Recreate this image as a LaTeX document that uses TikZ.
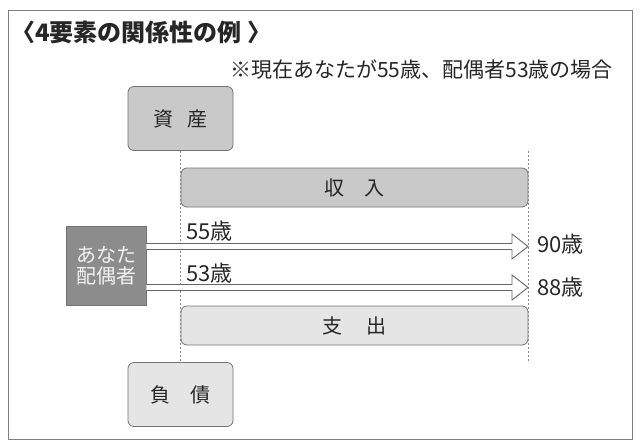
\documentclass[tikz,border=0pt]{standalone}
\usepackage{fontspec}
\setmainfont{Noto Sans CJK JP}
\usetikzlibrary{calc, positioning}

\begin{document}
\begin{tikzpicture}[
    x=1pt, y=-1pt,
    font=\fontsize{20}{21}\selectfont,
    every node/.style={
        inner sep=0pt,
        text=black!85,
        align=center
    },
    box/.style={draw=black!55, line width=0.8pt, rounded corners=6pt},
    stock/.style={box, minimum width=105pt, minimum height=64pt},
    flow/.style={box, minimum width=347pt, minimum height=39pt},
    dark/.style={fill=black!21},
    light/.style={fill=black!10},
    person/.style={fill=black!45, draw=black!55, line width=0.8pt, text=black!5,
        minimum width=80pt, minimum height=79pt},
    agearrow/.style={draw=black!60, line width=0.9pt, fill=white, line join=miter},
    agelabel/.style={anchor=west, font=\fontsize{22}{24}\selectfont},
    guide/.style={draw=black!45, line width=0.5pt, dash pattern=on 2pt off 2pt},
    frame/.style={draw=black!50, line width=1pt}
]

\useasboundingbox (0,0) rectangle (640,447);
\draw[frame] (8,10) rectangle (632,439);

% Heading
\node[anchor=west, font=\fontsize{24}{26}\selectfont\bfseries] (title) at (11,32) {〈4要素の関係性の例 〉};
\node[anchor=east, font=\fontsize{21}{23}\selectfont] (note) at (613,70) {※現在あなたが55歳、配偶者53歳の場合};

% Stocks and flows
\node[stock, dark] (assets) at (180.5,118.5) {資\hspace{0.7em}産};
\node[flow, dark] (income) at (354.5,187.5) {収\hspace{1em}入};
\node[flow, light] (spending) at (354.5,325.5) {支\hspace{1.2em}出};
\node[stock, light] (debt) at (180.5,394.5) {負\hspace{1em}債};

% Household
\node[person] (you) at (106,266) {あなた\\配偶者};

% Time span
\draw[guide] (assets.south) -- (debt.north);
\draw[guide] (income.north east |- assets.south) -- (spending.south east |- debt.north);

\coordinate (tip1) at (528,246.5);
\coordinate (tip2) at (528,287.5);

\draw[agearrow] ($(you.east |- tip1)+(0,-3)$) -- ($(tip1)+(-16,-3)$) -- ($(tip1)+(-16,-12.5)$)
    -- (tip1) -- ($(tip1)+(-16,12.5)$) -- ($(tip1)+(-16,3)$) -- ($(you.east |- tip1)+(0,3)$);
\draw[agearrow] ($(you.east |- tip2)+(0,-3)$) -- ($(tip2)+(-16,-3)$) -- ($(tip2)+(-16,-12.5)$)
    -- (tip2) -- ($(tip2)+(-16,12.5)$) -- ($(tip2)+(-16,3)$) -- ($(you.east |- tip2)+(0,3)$);

% Ages
\node[agelabel] (now1) at (186,231) {55歳};
\node[agelabel] (now2) at (186,273) {53歳};
\node[agelabel] (end1) at (537,244) {90歳};
\node[agelabel] (end2) at (537,287) {88歳};

\end{tikzpicture}
\end{document}
